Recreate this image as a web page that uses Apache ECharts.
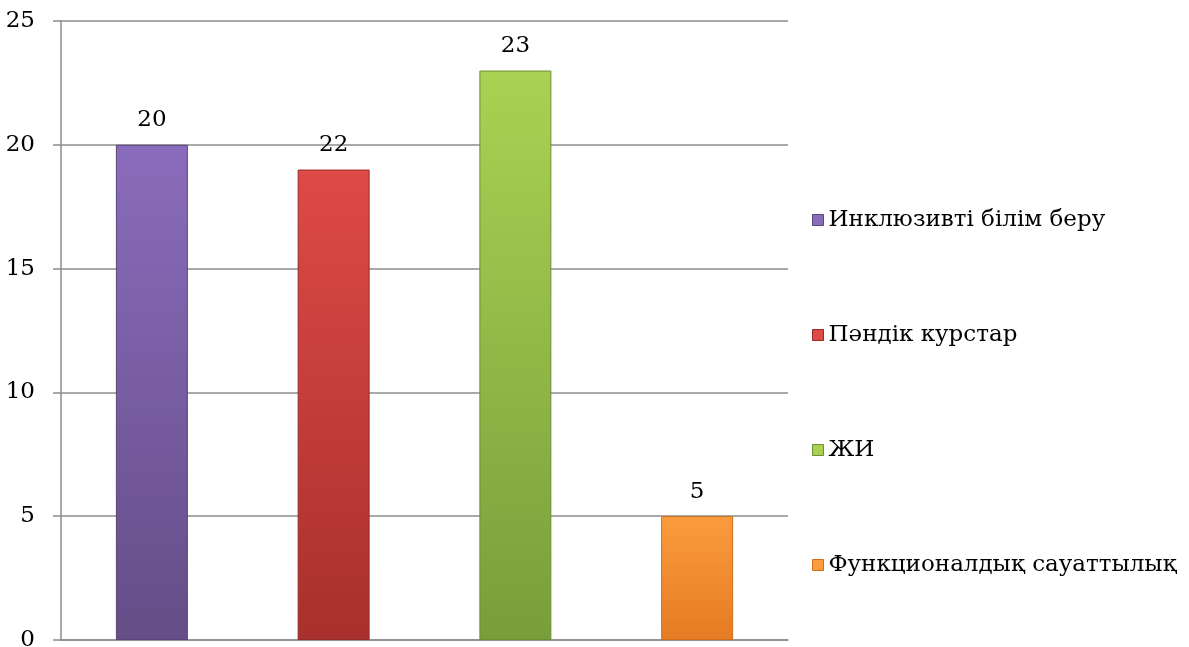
<!DOCTYPE html>
<html><head><meta charset="utf-8">
<script src="https://cdn.jsdelivr.net/npm/echarts@6/dist/echarts.min.js"></script>
<style>html,body{margin:0;padding:0;background:#fff;}#c{width:1189px;height:647px;}</style>
</head><body><div id="c"></div>
<script>
const categories = ["Инклюзивті білім беру", "Пәндік курстар", "ЖИ", "Функционалдық сауаттылық"];
const values = [20, 19, 23, 5];
const valueLabels = ["20", "22", "23", "5"];
const yTicks = [0, 5, 10, 15, 20, 25];
const topColors = ["#8a6cbc", "#de4a46", "#a9d253", "#fb9c3e"];
const bottomColors = ["#654d87", "#a8302d", "#789e3a", "#e57b22"];
const borderColors = ["#5a4478", "#962b28", "#6c8e34", "#d06e1c"];

const FONT = "DejaVu Serif";
const FS = 23;
const chart = echarts.init(document.getElementById('c'), null, {renderer: 'canvas'});
const series = categories.map((name, i) => ({
  name: name,
  type: 'bar',
  stack: 'one',
  barWidth: '39.6%',
  data: categories.map((c, j) => j === i ? values[i] : '-'),
  itemStyle: {
    color: new echarts.graphic.LinearGradient(0, 0, 0, 1, [
      {offset: 0, color: topColors[i]},
      {offset: 1, color: bottomColors[i]}
    ]),
    borderColor: borderColors[i],
    borderWidth: 1
  },
  label: {
    show: true, position: 'top', distance: 13,
    fontFamily: FONT, fontSize: FS, color: '#000',
    formatter: () => valueLabels[i]
  }
}));
chart.setOption({
  animation: false,
  backgroundColor: '#fff',
  grid: {left: 61, right: 401, top: 21, bottom: 7, containLabel: false, outerBoundsMode: 'none'},
  legend: {
    orient: 'vertical', left: 807, top: 201,
    itemWidth: 11, itemHeight: 11, itemGap: 87,
    icon: 'rect',
    textStyle: {fontFamily: FONT, fontSize: FS, color: '#000', lineHeight: 28},
    data: categories.map((c, i) => ({name: c, itemStyle: {color: topColors[i], borderColor: borderColors[i], borderWidth: 1}}))
  },
  xAxis: {
    type: 'category', data: categories,
    axisLine: {show: true, lineStyle: {color: '#8c8c8c', width: 1.5}},
    axisTick: {show: false},
    axisLabel: {show: false}
  },
  yAxis: {
    type: 'value', min: yTicks[0], max: yTicks[yTicks.length - 1], interval: 5,
    axisLine: {show: true, lineStyle: {color: '#8c8c8c', width: 1.5}},
    axisTick: {show: true, length: 8, lineStyle: {color: '#8c8c8c', width: 1.5}},
    axisLabel: {fontFamily: FONT, fontSize: FS, color: '#000', margin: 26},
    splitLine: {show: true, lineStyle: {color: '#8c8c8c', width: 1.5}}
  },
  series: series
});
</script></body></html>
